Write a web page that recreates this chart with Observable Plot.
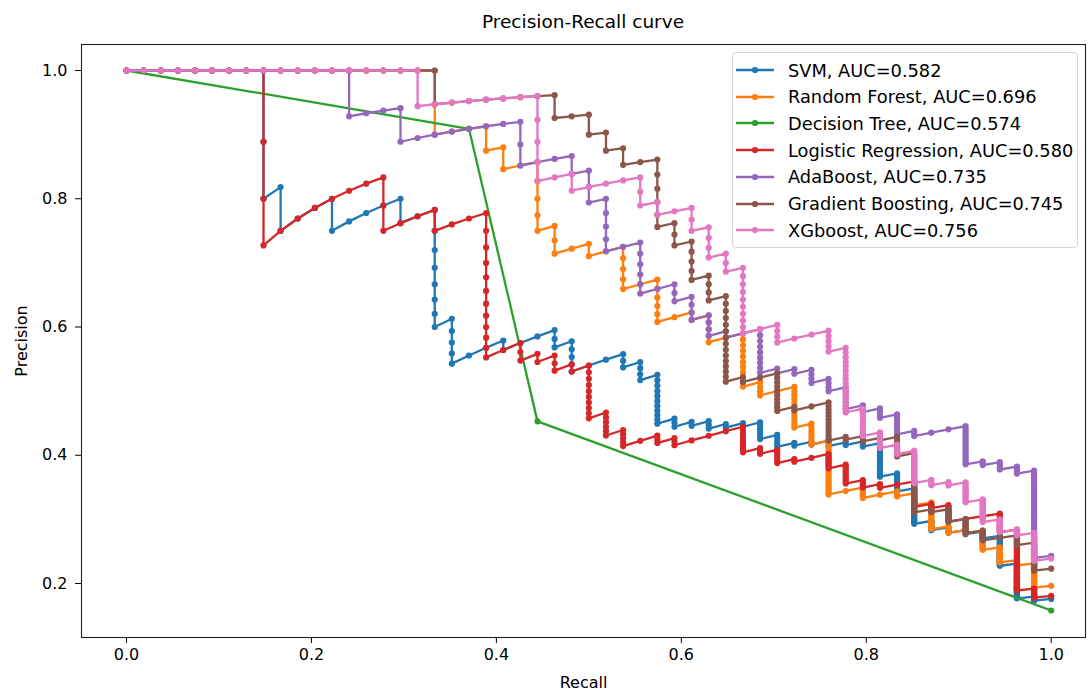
<!DOCTYPE html>
<html><head><meta charset="utf-8">
<script src="https://cdn.jsdelivr.net/npm/d3@7"></script>
<script src="https://cdn.jsdelivr.net/npm/@observablehq/plot@0.6"></script>
<style>
body{margin:0;background:#fff;font-family:"DejaVu Sans",sans-serif;}
#wrap{position:relative;width:1091px;height:693px;overflow:hidden;}
#title{position:absolute;left:81px;width:1004px;top:11px;text-align:center;font-size:18.5px;color:#000;}
#legend{position:absolute;left:732px;top:52px;width:346px;height:196px;border:1px solid #d6d6d6;border-radius:4px;background:rgba(255,255,255,0.85);box-sizing:border-box;}
.row{position:absolute;left:0;height:26px;display:flex;align-items:center;font-size:17.8px;color:#000;white-space:nowrap;}
.row svg{margin-left:2px;margin-right:13px;}
</style></head>
<body><div id="wrap"><div id="title">Precision-Recall curve</div></div>
<script>
// Positive class size (recall denominator)
const positives = 54;
// Model names and AUC labels
const modelNames = ["SVM","Random Forest","Decision Tree","Logistic Regression","AdaBoost","Gradient Boosting","XGboost"];
const aucValues = ["0.582","0.696","0.574","0.580","0.735","0.745","0.756"];
const colors = ["#1f77b4","#ff7f0e","#2ca02c","#d62728","#9467bd","#8c564b","#e377c2"];
// Cumulative [true positives, false positives] at each corner of each curve.
// Every sample between two corners is its own threshold point (one TP or one FP per point).
const svmCorners = [[0,0],[8,0],[8,2],[9,2],[9,3],[12,3],[12,4],[16,4],[16,5],[18,5],[18,12],[19,12],[19,16],[22,16],[22,17],[25,17],[25,19],[26,19],[26,23],[29,23],[29,25],[30,25],[30,28],[31,28],[31,38],[32,38],[32,40],[33,40],[33,41],[34,41],[34,43],[35,43],[35,44],[36,44],[36,45],[37,45],[37,50],[38,50],[38,54],[39,54],[39,55],[40,55],[40,56],[41,56],[41,58],[42,58],[42,59],[43,59],[43,61],[44,61],[44,76],[45,76],[45,86],[46,86],[46,111],[47,111],[47,119],[48,119],[48,124],[49,124],[49,128],[50,128],[50,135],[51,135],[51,173],[52,173],[52,242],[53,242],[53,253],[54,253]];
const rfCorners = [[0,0],[18,0],[18,2],[21,2],[21,3],[22,3],[22,4],[24,4],[24,8],[25,8],[25,10],[27,10],[27,11],[29,11],[29,15],[31,15],[31,20],[33,20],[33,21],[34,21],[34,25],[36,25],[36,35],[37,35],[37,38],[39,38],[39,49],[40,49],[40,56],[41,56],[41,80],[43,80],[43,86],[45,86],[45,89],[46,89],[46,97],[47,97],[47,118],[48,118],[48,124],[49,124],[49,127],[50,127],[50,148],[51,148],[51,168],[52,168],[52,176],[53,176],[53,221],[54,221]];
const dtCorners = [[0,0],[20,2],[24,29],[54,288]];
const lrCorners = [[0,0],[8,0],[8,3],[15,3],[15,5],[18,5],[18,6],[21,6],[21,17],[23,17],[23,19],[24,19],[24,20],[25,20],[25,22],[26,22],[26,23],[27,23],[27,32],[28,32],[28,37],[29,37],[29,41],[31,41],[31,43],[32,43],[32,45],[36,45],[36,53],[37,53],[37,55],[38,55],[38,60],[39,60],[39,61],[41,61],[41,67],[42,67],[42,76],[43,76],[43,80],[44,80],[44,82],[46,82],[46,98],[47,98],[47,101],[48,101],[48,114],[51,114],[51,131],[52,131],[52,223],[53,223],[53,245],[54,245]];
const adaCorners = [[0,0],[13,0],[13,1],[16,1],[16,2],[23,2],[23,4],[26,4],[26,5],[27,5],[27,7],[28,7],[28,11],[30,11],[30,16],[32,16],[32,18],[33,18],[33,21],[34,21],[34,24],[35,24],[35,25],[37,25],[37,33],[38,33],[38,34],[39,34],[39,35],[40,35],[40,38],[41,38],[41,41],[42,41],[42,47],[43,47],[43,49],[44,49],[44,52],[45,52],[45,59],[46,59],[46,61],[49,61],[49,78],[50,78],[50,80],[51,80],[51,84],[52,84],[52,88],[53,88],[53,168],[54,168]];
const gbCorners = [[0,0],[18,0],[18,1],[25,1],[25,2],[27,2],[27,3],[28,3],[28,4],[29,4],[29,5],[31,5],[31,10],[32,10],[32,12],[33,12],[33,16],[34,16],[34,19],[35,19],[35,33],[36,33],[36,34],[38,34],[38,43],[39,43],[39,44],[41,44],[41,56],[42,56],[42,57],[43,57],[43,59],[44,59],[44,60],[45,60],[45,68],[46,68],[46,102],[47,102],[47,104],[48,104],[48,114],[49,114],[49,127],[50,127],[50,137],[52,137],[52,148],[53,148],[53,188],[54,188]];
const xgbCorners = [[0,0],[17,0],[17,1],[24,1],[24,5],[26,5],[26,6],[30,6],[30,8],[31,8],[31,9],[33,9],[33,11],[34,11],[34,14],[35,14],[35,16],[36,16],[36,25],[38,25],[38,28],[41,28],[41,32],[42,32],[42,48],[43,48],[43,57],[44,57],[44,63],[45,63],[45,67],[46,67],[46,83],[47,83],[47,86],[48,86],[48,88],[49,88],[49,101],[50,101],[50,119],[51,119],[51,131],[52,131],[52,137],[53,137],[53,172],[54,172]];
const allCorners = [svmCorners, rfCorners, dtCorners, lrCorners, adaCorners, gbCorners, xgbCorners];
const xTicks = [0, 0.2, 0.4, 0.6, 0.8, 1.0];
const yTicks = [0.2, 0.4, 0.6, 0.8, 1.0];

function thresholdPoints(corners){
  const pts = [corners[0]];
  for (let i = 1; i < corners.length; i++){
    const [t0,f0] = corners[i-1], [t,f] = corners[i];
    if (t !== t0 && f !== f0) pts.push([t,f]);
    else if (t !== t0) for (let k = t0+1; k <= t; k++) pts.push([k,f]);
    else for (let k = f0+1; k <= f; k++) pts.push([t,k]);
  }
  return pts;
}
const series = allCorners.map((c, i) => thresholdPoints(c).map(([tp,fp]) => ({
  model: modelNames[i], recall: tp/positives, precision: tp+fp === 0 ? 1 : tp/(tp+fp)
})));

const marks = [Plot.frame({stroke:"#222", strokeWidth:1.1})];
series.forEach((d,i) => {
  marks.push(Plot.line(d, {x:"recall", y:"precision", stroke:colors[i], strokeWidth:2.3, curve:"linear"}));
  marks.push(Plot.dot(d, {x:"recall", y:"precision", fill:colors[i], r:3.1}));
});
marks.push(Plot.axisX({ticks:xTicks, tickFormat:d3.format(".1f"), tickSize:6, tickPadding:5, fontSize:16, label:"Recall", labelAnchor:"center", labelArrow:"none", labelOffset:50}));
marks.push(Plot.axisY({ticks:yTicks, tickFormat:d3.format(".1f"), tickSize:6, tickPadding:8, fontSize:16, label:"Precision", labelAnchor:"center", labelArrow:"none", labelOffset:66}));

const chart = Plot.plot({
  width:1091, height:693,
  marginLeft:81, marginRight:6, marginTop:44, marginBottom:56,
  style:{fontFamily:"DejaVu Sans", fontSize:"16px", color:"#000", background:"#fff"},
  x:{domain:[0,1], range:[126,1050.7]},
  y:{domain:[0.2,1.0], range:[583,70]},
  marks
});
const wrap = document.getElementById("wrap");
wrap.insertBefore(chart, wrap.firstChild);

// Legend
const legend = document.createElement("div");
legend.id = "legend";
modelNames.forEach((name,i) => {
  const row = document.createElement("div");
  row.className = "row";
  row.style.top = (4 + i*26.7) + "px";
  row.innerHTML = `<svg width="40" height="10"><line x1="1" x2="39" y1="5" y2="5" stroke="${colors[i]}" stroke-width="2.3"/><circle cx="20" cy="5" r="3.1" fill="${colors[i]}"/></svg><span>${name}, AUC=${aucValues[i]}</span>`;
  legend.appendChild(row);
});
wrap.appendChild(legend);
</script>
</body></html>
